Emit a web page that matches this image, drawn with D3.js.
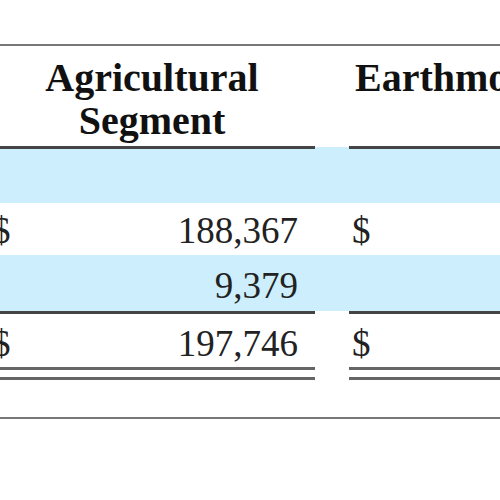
<!DOCTYPE html>
<html><head><meta charset="utf-8">
<script src="https://cdn.jsdelivr.net/npm/d3@7"></script>
<style>body{margin:0;background:#fff}</style></head>
<body><svg width="500" height="500"></svg>
<script>
// table data
var headers = [["Agricultural", "Segment"], ["Earthmoving"]];
var rowLabels = ["blank", "sales", "other", "total"];
var agValues = [null, 188367, 9379, 197746];
var dollarRows = [false, true, false, true];

var svg = d3.select("svg");
var fmt = d3.format(",");
var font = "Liberation Serif, Times New Roman, serif";

// row bands
var bands = [[147, 203], [255, 311]];
bands.forEach(function(b) {
    svg.append("rect").attr("x", 0).attr("y", b[0]).attr("width", 500)
        .attr("height", b[1] - b[0]).attr("fill", "#cdeefc");
});

// gray rule lines
svg.append("rect").attr("x", 0).attr("y", 44).attr("width", 500).attr("height", 2).attr("fill", "#777");
svg.append("rect").attr("x", 0).attr("y", 417).attr("width", 500).attr("height", 2).attr("fill", "#777");

// column underlines
var cols = [[0, 315], [349, 500]];
cols.forEach(function(c) {
    [146, 311].forEach(function(yy) {
        svg.append("rect").attr("x", c[0]).attr("y", yy).attr("width", c[1] - c[0]).attr("height", 3).attr("fill", "#444");
    });
    [367, 377].forEach(function(yy) {
        svg.append("rect").attr("x", c[0]).attr("y", yy).attr("width", c[1] - c[0]).attr("height", 3).attr("fill", "#666");
    });
});

// headers
function head(x, yy, t, anchor) {
    svg.append("text").attr("x", x).attr("y", yy).attr("text-anchor", anchor)
        .attr("font-family", font).attr("font-weight", "bold").attr("font-size", 40)
        .attr("fill", "#111").text(t);
}
head(152, 91, headers[0][0], "middle");
head(152, 134, headers[0][1], "middle");
head(355, 91, headers[1][0], "start");

// values
var rowY = [0, 243, 298, 356];
agValues.forEach(function(v, i) {
    if (v !== null) {
        svg.append("text").attr("x", 298).attr("y", rowY[i]).attr("text-anchor", "end")
            .attr("font-family", font).attr("font-size", 37).attr("fill", "#222").text(fmt(v));
    }
    if (dollarRows[i]) {
        svg.append("text").attr("x", -8).attr("y", rowY[i]).attr("font-family", font)
            .attr("font-size", 37).attr("fill", "#222").text("$");
        svg.append("text").attr("x", 352).attr("y", rowY[i]).attr("font-family", font)
            .attr("font-size", 37).attr("fill", "#222").text("$");
    }
});
</script></body></html>
